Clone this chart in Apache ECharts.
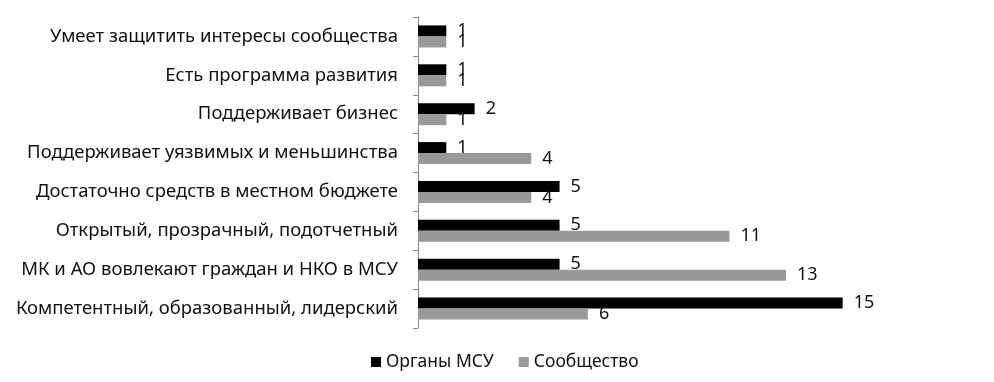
<!DOCTYPE html>
<html><head><meta charset="utf-8">
<script src="https://cdn.jsdelivr.net/npm/echarts@6/dist/echarts.min.js"></script>
<style>html,body{margin:0;padding:0;background:#fff}#c{width:994px;height:382px}</style>
</head><body><div id="c"></div>
<script>
const categories = [
  'Умеет защитить интересы сообщества',
  'Есть программа развития',
  'Поддерживает бизнес',
  'Поддерживает уязвимых и меньшинства',
  'Достаточно средств в местном бюджете',
  'Открытый, прозрачный, подотчетный',
  'МК и АО вовлекают граждан и НКО в МСУ',
  'Компетентный, образованный, лидерский'
];
const organyMSU = [1, 1, 2, 1, 5, 5, 5, 15];
const soobshchestvo = [1, 1, 1, 4, 4, 11, 13, 6];
const seriesNames = ['Органы МСУ', 'Сообщество'];

const font = 'Noto Sans';
const chart = echarts.init(document.getElementById('c'), null, {renderer: 'canvas'});
const lbl = {show: true, position: 'right', distance: 11, color: '#111', fontFamily: font, fontSize: 18};
chart.setOption({
  animation: false,
  textStyle: {fontFamily: font},
  grid: {left: 418, top: 17, bottom: 54, width: 453},
  legend: {
    top: 348, left: 366, itemWidth: 10, itemHeight: 10, itemGap: 25,
    icon: 'rect',
    textStyle: {fontFamily: font, fontSize: 17.5, color: '#111'},
    data: seriesNames
  },
  xAxis: {type: 'value', min: 0, max: 16, show: false},
  yAxis: {
    type: 'category', inverse: true, data: categories,
    axisLine: {lineStyle: {color: '#888', width: 1}},
    axisTick: {show: true, length: 5, lineStyle: {color: '#888'}},
    axisLabel: {margin: 20, color: '#111', fontFamily: font, fontSize: 18.5}
  },
  series: [
    {name: seriesNames[0], type: 'bar', data: organyMSU, itemStyle: {color: '#000'},
     barWidth: 11, barGap: '0%', label: lbl},
    {name: seriesNames[1], type: 'bar', data: soobshchestvo, itemStyle: {color: '#999'},
     barWidth: 11, barGap: '0%', label: lbl}
  ]
});
</script></body></html>
